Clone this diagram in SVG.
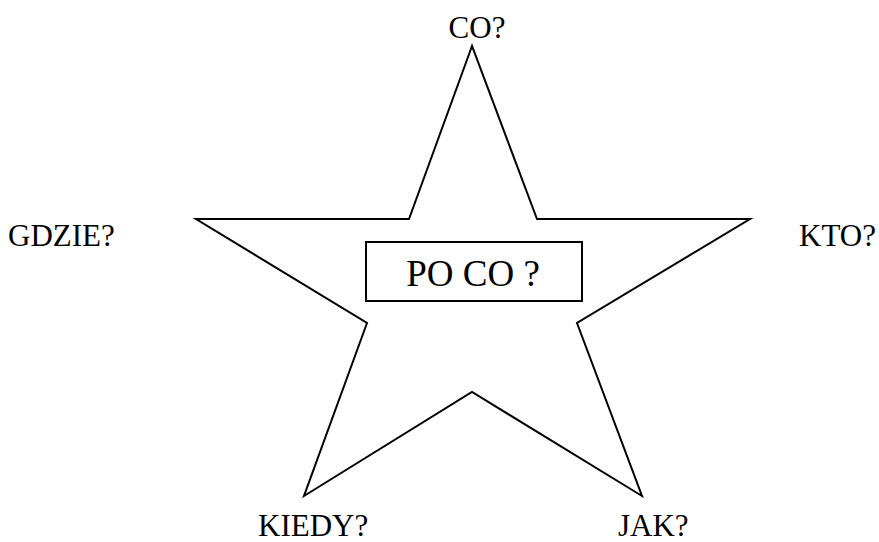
<svg xmlns="http://www.w3.org/2000/svg" width="879" height="542" viewBox="0 0 879 542">
<style>
text{font-family:'Liberation Serif','Times New Roman','DejaVu Serif',serif;font-size:31px;fill:#000}
text.big{font-size:37px}
.shape{fill:none;stroke:#000;stroke-width:2}
</style>
<rect width="879" height="542" fill="#fff"/>
<g id="star">
<polygon class="shape" points="472,46 409,219 196,219 367,323 304,496 472,392 642,496 577,323 750,219 537,219"/>
</g>
<g id="center">
<rect class="shape" x="366" y="242" width="216" height="59"/>
<text class="big" x="473" y="286" text-anchor="middle">PO CO ?</text>
</g>
<g id="co"><text x="477" y="38" text-anchor="middle">CO?</text></g>
<g id="gdzie"><text x="8" y="246">GDZIE?</text></g>
<g id="kto"><text x="799" y="246">KTO?</text></g>
<g id="kiedy"><text x="258" y="536">KIEDY?</text></g>
<g id="jak"><text x="618" y="536">JAK?</text></g>
<g id="connectors"></g>
</svg>
